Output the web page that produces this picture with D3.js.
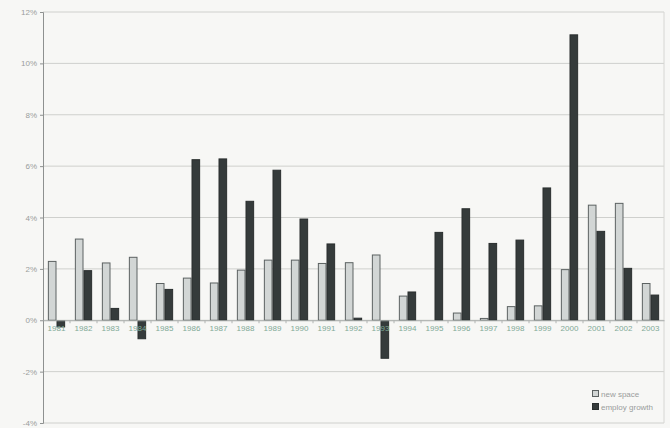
<!DOCTYPE html>
<html>
<head>
<meta charset="utf-8">
<script src="https://cdn.jsdelivr.net/npm/d3@7"></script>
<style>
  html, body { margin: 0; padding: 0; background: #f7f7f5; }
  svg { display: block; }
  text { font-family: "Liberation Sans", Arial, sans-serif; }
</style>
</head>
<body>
<svg id="chart" width="670" height="428"></svg>
<script>
// Annual growth: new office space vs. employment growth
const years = ["1981","1982","1983","1984","1985","1986","1987","1988","1989","1990","1991","1992",
               "1993","1994","1995","1996","1997","1998","1999","2000","2001","2002","2003"];
const newSpace = [2.31, 3.18, 2.25, 2.47, 1.45, 1.66, 1.47, 1.97, 2.36, 2.36, 2.23, 2.26,
                  2.56, 0.96, 0.0, 0.30, 0.09, 0.55, 0.58, 1.99, 4.50, 4.57, 1.45];
const employGrowth = [-0.26, 1.95, 0.48, -0.72, 1.22, 6.27, 6.30, 4.65, 5.86, 3.96, 2.99, 0.10,
                      -1.48, 1.12, 3.44, 4.36, 3.01, 3.14, 5.17, 11.13, 3.48, 2.04, 1.00];
const yTicks = [-4, -2, 0, 2, 4, 6, 8, 10, 12];
const seriesNames = ["new space", "employ growth"];

const svg = d3.select("#chart");
const m = { left: 43, right: 6, top: 12, bottom: 5 };
const W = 670, H = 428;

const x = d3.scaleBand().domain(years).range([m.left, W - m.right]).paddingInner(0.36).paddingOuter(0.18);
const x1 = d3.scaleBand().domain(seriesNames).range([0, x.bandwidth()]);
const xOuter = d3.scaleBand().domain(years).range([m.left, W - m.right]);
const y = d3.scaleLinear().domain([-4, 12]).range([H - m.bottom, m.top]);

const fills = { "new space": "#d2d6d5", "employ growth": "#353b3b" };
const strokes = { "new space": "#5c6262", "employ growth": "#2a2f2f" };

// horizontal gridlines
svg.append("g").selectAll("line").data(yTicks).join("line")
  .attr("x1", m.left).attr("x2", W - m.right)
  .attr("y1", d => y(d)).attr("y2", d => y(d))
  .attr("stroke", "#cfd0cd").attr("stroke-width", 1);

// right border
svg.append("line").attr("x1", W - m.right).attr("x2", W - m.right)
  .attr("y1", m.top).attr("y2", H - m.bottom).attr("stroke", "#d6d6d3");

// y axis
const yAxis = d3.axisLeft(y).tickValues(yTicks).tickFormat(d => d + "%").tickSize(3).tickPadding(3);
const gy = svg.append("g").attr("transform", `translate(${m.left},0)`).call(yAxis);
gy.select(".domain").attr("stroke", "#8e9190");
gy.selectAll(".tick line").attr("stroke", "#8e9190");
gy.selectAll("text").attr("fill", "#9a9d9c").attr("font-size", 8);

// bars
const groups = svg.append("g").selectAll("g").data(years).join("g")
  .attr("transform", d => `translate(${x(d)},0)`);
groups.selectAll("rect")
  .data((d, i) => [
    { key: "new space", v: newSpace[i] },
    { key: "employ growth", v: employGrowth[i] }
  ])
  .join("rect")
  .attr("x", d => x1(d.key) + 0.5)
  .attr("width", x1.bandwidth() - 1)
  .attr("y", d => Math.min(y(d.v), y(0)) + 0.5)
  .attr("height", d => Math.max(0, Math.abs(y(d.v) - y(0)) - 0.5))
  .attr("fill", d => fills[d.key])
  .attr("stroke", d => strokes[d.key])
  .attr("stroke-width", 1);

// zero axis with category ticks
const xAxis = d3.axisBottom(xOuter).tickSize(0).tickPadding(5);
const gx = svg.append("g").attr("transform", `translate(0,${y(0)})`).call(xAxis);
gx.select(".domain").attr("stroke", "#a9acab");
gx.selectAll("text").attr("fill", "#7fa996").attr("font-size", 8);
svg.append("g").selectAll("line").data(years.slice(1)).join("line")
  .attr("x1", d => xOuter(d)).attr("x2", d => xOuter(d))
  .attr("y1", y(0)).attr("y2", y(0) + 3)
  .attr("stroke", "#b0b3b2");

// legend
const lg = svg.append("g").attr("transform", "translate(592,390)");
seriesNames.forEach((s, i) => {
  const r = lg.append("g").attr("transform", `translate(0,${i * 13})`);
  r.append("rect").attr("x", 0.5).attr("y", 0.5).attr("width", 6).attr("height", 6)
    .attr("fill", fills[s]).attr("stroke", strokes[s]);
  r.append("text").attr("x", 9).attr("y", 6.5).attr("font-size", 8)
    .attr("fill", "#9a9d9c").text(s);
});
</script>
</body>
</html>
